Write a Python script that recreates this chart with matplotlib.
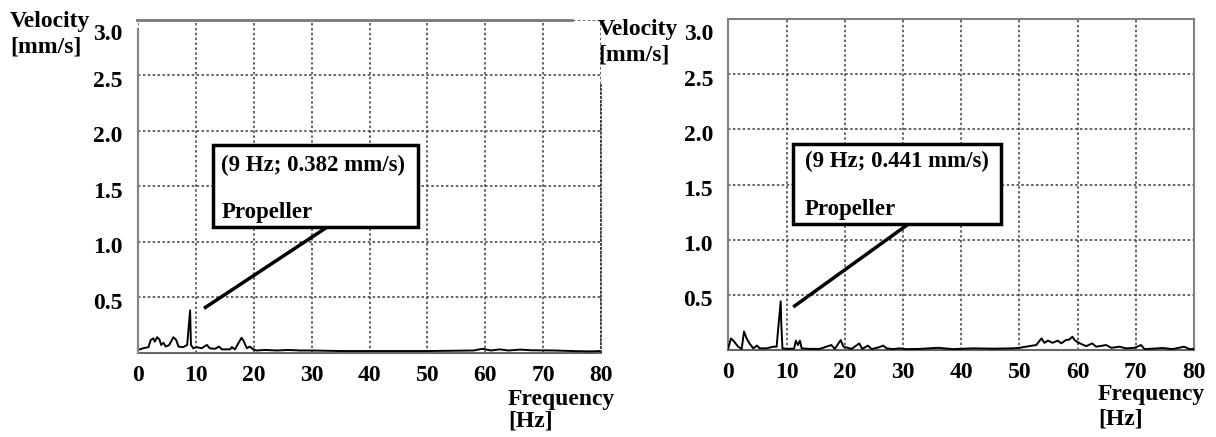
import matplotlib
matplotlib.use("Agg")
import matplotlib.pyplot as plt
from matplotlib.patches import Rectangle
from matplotlib.transforms import ScaledTranslation

plt.rcParams['font.family'] = ['Liberation Serif', 'DejaVu Serif']
plt.rcParams['font.weight'] = 'bold'

# ---- data ----
freq_a = [0.0, 0.9, 1.8, 2.2, 2.65, 2.9, 3.3, 3.7, 4.0, 4.4, 4.8, 5.4, 6.1, 6.6, 7.0, 7.8, 8.5,
          9.0, 9.15, 9.55, 10.1, 11.0, 11.9, 12.4, 13.3, 14.0, 14.5, 15.9, 16.2, 16.75, 17.5,
          17.9, 18.3, 18.8, 19.3, 19.9, 20.5, 22.0, 24.0, 26.0, 28.0, 30.0, 35.0, 40.0, 45.0,
          50.0, 55.0, 58.0, 59.5, 61.0, 62.5, 64.0, 66.0, 68.0, 72.0, 75.0, 78.0, 80.0]
vel_a = [0.025, 0.04, 0.05, 0.115, 0.13, 0.10, 0.14, 0.12, 0.07, 0.09, 0.055, 0.07, 0.14, 0.115,
         0.055, 0.05, 0.07, 0.382, 0.07, 0.04, 0.05, 0.04, 0.07, 0.04, 0.035, 0.055, 0.03, 0.03,
         0.05, 0.03, 0.10, 0.135, 0.10, 0.04, 0.055, 0.03, 0.02, 0.025, 0.02, 0.025, 0.02, 0.02,
         0.015, 0.015, 0.015, 0.015, 0.018, 0.02, 0.035, 0.02, 0.03, 0.02, 0.028, 0.022, 0.02,
         0.015, 0.012, 0.015]

freq_b = [0.0, 0.45, 0.86, 1.7, 2.3, 2.7, 3.15, 3.7, 4.3, 4.9, 5.4, 6.6, 7.7, 8.3, 8.65, 9.0,
          9.1, 9.3, 10.0, 11.3, 11.6, 11.95, 12.3, 12.6, 14.0, 15.7, 17.7, 18.3, 19.3, 19.8, 21.2,
          22.5, 23.0, 24.0, 24.6, 25.9, 26.6, 27.2, 28.3, 29.4, 30.6, 32.9, 36.0, 38.6, 42.0,
          45.5, 48.9, 50.0, 51.7, 52.9, 53.8, 54.3, 54.9, 55.7, 56.6, 57.2, 58.0, 58.6, 59.1,
          59.5, 59.9, 60.6, 61.5, 62.5, 63.2, 64.9, 65.8, 67.2, 68.3, 69.8, 70.9, 71.5, 72.9,
          74.6, 76.3, 78.3, 79.2, 80.0]
vel_b = [0.015, 0.105, 0.085, 0.03, 0.01, 0.167, 0.105, 0.055, 0.015, 0.04, 0.015, 0.015, 0.03,
         0.03, 0.24, 0.441, 0.24, 0.015, 0.01, 0.012, 0.085, 0.045, 0.085, 0.015, 0.01, 0.01,
         0.045, 0.01, 0.09, 0.03, 0.01, 0.06, 0.01, 0.04, 0.008, 0.025, 0.04, 0.015, 0.008,
         0.015, 0.008, 0.01, 0.02, 0.008, 0.015, 0.012, 0.015, 0.02, 0.035, 0.045, 0.105, 0.065,
         0.085, 0.065, 0.085, 0.06, 0.09, 0.095, 0.12, 0.09, 0.075, 0.055, 0.035, 0.06, 0.03,
         0.045, 0.02, 0.03, 0.015, 0.02, 0.045, 0.008, 0.012, 0.018, 0.008, 0.03, 0.008, 0.01]

x_ticks = [0, 10, 20, 30, 40, 50, 60, 70, 80]
y_ticks = [0.5, 1.0, 1.5, 2.0, 2.5, 3.0]
y_ticklabels = ["0.5", "1.0", "1.5", "2.0", "2.5", "3.0"]
peak_labels = ["(9 Hz; 0.382 mm/s)", "(9 Hz; 0.441 mm/s)"]
source_label = "Propeller"

W, H = 1216, 437
fig = plt.figure(figsize=(W / 100, H / 100), dpi=100)


def frac(px, py):
    return px / W, 1 - py / H


def make_axes(x0, x1, ytop, ybot):
    return fig.add_axes([x0 / W, 1 - ybot / H, (x1 - x0) / W, (ybot - ytop) / H])


ax1 = make_axes(138, 601, 20, 352.7)
ax2 = make_axes(728.3, 1194, 19, 350)

grid_kw = dict(color='#3a3a3a', linestyle=(0, (1.6, 1.6)), linewidth=1.1)

for ax, f, v in [(ax1, freq_a, vel_a), (ax2, freq_b, vel_b)]:
    ax.set_xlim(0, 80)
    ax.set_ylim(0, 3.0)
    ax.plot(f, v, color='black', linewidth=1.4, zorder=3)
    ax.set_xticks(x_ticks)
    ax.set_xticklabels([str(t) for t in x_ticks], fontsize=17, fontweight='bold')
    ax.set_yticks(y_ticks)
    ax.set_yticklabels(y_ticklabels, fontsize=17, fontweight='bold')
    ax.tick_params(length=0)
    ax.tick_params(axis='x', pad=9)
    ax.tick_params(axis='y', pad=11)
    ax.grid(True, **grid_kw)
    ax.set_axisbelow(True)
    for lab, yt in zip(ax.get_yticklabels(), y_ticks):
        dy = -9 / 72 if yt == 3.0 else -2.5 / 72
        lab.set_transform(lab.get_transform() + ScaledTranslation(0, dy, fig.dpi_scale_trans))

# left panel frame (partial)
for s in ax1.spines.values():
    s.set_visible(False)
ax1.spines['bottom'].set_visible(True)
ax1.spines['bottom'].set_color('#666666')
ax1.spines['bottom'].set_linewidth(1.5)
ax1.plot([0, 0], [0, 2.92], color='#888888', linewidth=1.6, clip_on=False, zorder=4)
ax1.plot([-0.2, 75], [3.0, 3.0], color='#777777', linewidth=2.0, clip_on=False, zorder=4)
ax1.plot([80, 80], [0, 2.43], color='#333333', linewidth=1.3, linestyle=(0, (1.5, 0.7)),
         clip_on=False, zorder=4)

# right panel frame
for s in ax2.spines.values():
    s.set_color('#808080')
    s.set_linewidth(1.5)
ax2.spines['bottom'].set_color('#666666')

# annotations
ann = [
    (ax1, peak_labels[0], (13.0, 1.13, 48.4, 1.87), (14.4, 1.69, 1.26), (11.4, 0.40, 32.6, 1.13)),
    (ax2, peak_labels[1], (11.1, 1.14, 46.9, 1.87), (13.2, 1.71, 1.27), (11.15, 0.39, 30.9, 1.14)),
]
for ax, txt, box, tpos, line in ann:
    bx0, by0, bx1, by1 = box
    ax.add_patch(Rectangle((bx0, by0), bx1 - bx0, by1 - by0, facecolor='white',
                           edgecolor='black', linewidth=2.5, zorder=5))
    ax.text(tpos[0], tpos[1], txt, fontsize=16.5, fontweight='bold', va='center', ha='left', zorder=6)
    ax.text(tpos[0], tpos[2], source_label, fontsize=16.5, fontweight='bold', va='center', ha='left',
            zorder=6)
    ax.plot([line[0], line[2]], [line[1], line[3]], color='black', linewidth=2.5, zorder=5,
            solid_capstyle='butt')

# axis labels
lab_kw = dict(fontsize=17, fontweight='bold', ha='left', va='center')
fig.text(*frac(10, 21.7), "Velocity", **lab_kw)
fig.text(*frac(10, 46.7), "[mm/s]", **lab_kw)
fig.text(*frac(598, 30), "Velocity", **lab_kw)
fig.text(*frac(598, 55), "[mm/s]", **lab_kw)
fig.text(*frac(508, 399), "Frequency", **lab_kw)
fig.text(*frac(508, 421), "[Hz]", **lab_kw)
fig.text(*frac(1098, 394.3), "Frequency", **lab_kw)
fig.text(*frac(1098, 419), "[Hz]", **lab_kw)

fig.savefig("out.png", dpi=100, facecolor='white')
